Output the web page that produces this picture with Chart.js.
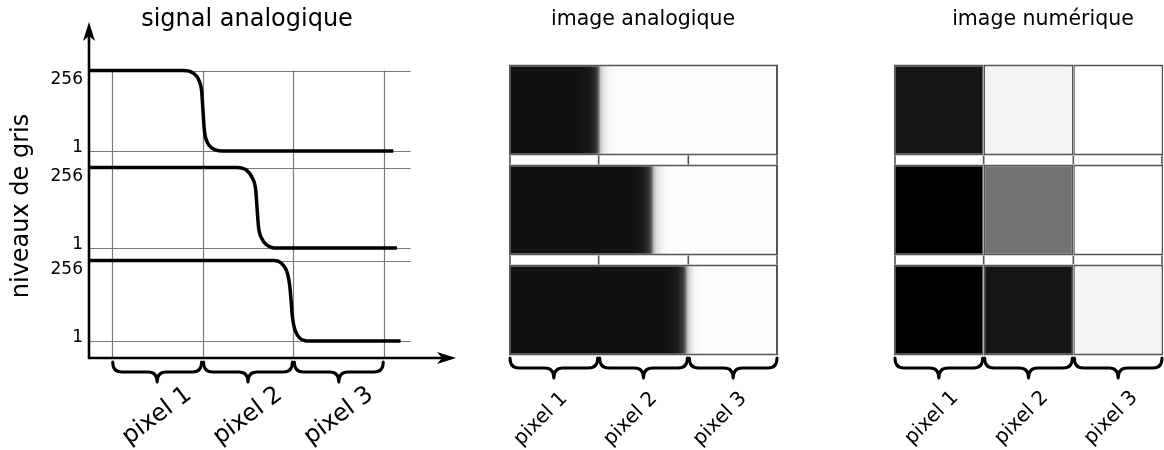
<!DOCTYPE html>
<html lang="fr">
<head>
<meta charset="utf-8">
<title>signal analogique, image analogique, image numérique</title>
<script src="https://cdn.jsdelivr.net/npm/chart.js@4.4.1/dist/chart.umd.min.js"></script>
<style>
  html, body { margin: 0; padding: 0; background: #fff; }
  #wrap { position: relative; width: 1164px; height: 450px; overflow: hidden; }
  canvas { position: absolute; top: 0; }
</style>
</head>
<body>
<div id="wrap">
  <canvas id="signalChart" width="480" height="450" style="left:0"></canvas>
  <canvas id="analogChart" width="390" height="450" style="left:480px"></canvas>
  <canvas id="digitalChart" width="294" height="450" style="left:870px"></canvas>
</div>
<script>
const FONT = '"DejaVu Sans", Verdana, sans-serif';

const pixelLabels = ['pixel 1', 'pixel 2', 'pixel 3'];
const rowNames = ['ligne 1', 'ligne 2', 'ligne 3'];
const levelTicks = [256, 1];

// signal analogique : x en largeurs de pixel, valeur en niveau de gris
const signal1X = [-0.25, 0.79, 0.90, 0.96, 0.99, 1.005, 1.02, 1.05, 1.11, 1.18, 1.27, 3.10];
const signal1Y = [256, 256, 247, 225, 190, 128, 66, 30, 9, 2, 1, 1];
const signal2X = [-0.25, 1.38, 1.49, 1.55, 1.585, 1.60, 1.615, 1.65, 1.71, 1.77, 1.82, 3.14];
const signal2Y = [256, 256, 246, 222, 185, 128, 70, 32, 10, 2, 1, 1];
const signal3X = [-0.25, 1.78, 1.88, 1.935, 1.96, 1.975, 1.99, 2.02, 2.07, 2.13, 2.18, 3.18];
const signal3Y = [256, 256, 244, 215, 175, 128, 75, 34, 10, 2, 1, 1];

// image numérique : gris de chaque pixel (0 = noir, 255 = blanc)
const digitalRow1 = [21, 244, 255];
const digitalRow2 = [0, 115, 255];
const digitalRow3 = [0, 21, 244];

const signalXs = [signal1X, signal2X, signal3X];
const signalYs = [signal1Y, signal2Y, signal3Y];
const digitalRows = [digitalRow1, digitalRow2, digitalRow3];

// layout of the three stacked signals on the left chart (px above the x axis)
const rowFloor = [207, 110, 17];
const rowHeight = 80.5;
const levelToY = (row, lvl) => rowFloor[row] + (lvl - 1) / 255 * rowHeight;

const rgb = g => `rgb(${g},${g},${g})`;
// analog level -> shade in the analog image (256 = dark, 1 = white)
const levelShade = lvl => rgb(Math.round(253 - (lvl - 1) / 255 * 236));

function line(ctx, x0, y0, x1, y1) {
    ctx.beginPath();
    ctx.moveTo(x0, y0);
    ctx.lineTo(x1, y1);
    ctx.stroke();
}

function drawBrace(ctx, x0, x1, yt, h) {
    const xm = (x0 + x1) / 2;
    const ym = yt + h * 0.5;
    const yb = yt + h;
    const r = 9;
    ctx.beginPath();
    ctx.moveTo(x0, yt);
    ctx.quadraticCurveTo(x0, ym, x0 + r, ym);
    ctx.lineTo(xm - r, ym);
    ctx.quadraticCurveTo(xm, ym, xm, yb);
    ctx.quadraticCurveTo(xm, ym, xm + r, ym);
    ctx.lineTo(x1 - r, ym);
    ctx.quadraticCurveTo(x1, ym, x1, yt);
    ctx.stroke();
}

function drawRotated(ctx, text, x, y, angle, size) {
    ctx.save();
    ctx.translate(x, y);
    ctx.rotate(angle);
    ctx.font = `${size}px ${FONT}`;
    ctx.fillStyle = '#000';
    ctx.textAlign = 'center';
    ctx.textBaseline = 'middle';
    ctx.fillText(text, 0, 0);
    ctx.restore();
}

function drawTitle(ctx, text, x, size) {
    ctx.save();
    ctx.font = `${size}px ${FONT}`;
    ctx.fillStyle = '#000';
    ctx.textAlign = 'center';
    ctx.textBaseline = 'middle';
    ctx.fillText(text, x, 20);
    ctx.restore();
}

// braces + rotated "pixel n" under the pixel columns
function drawPixelBraces(ctx, xScale, yt, labelDx, labelY, angle, size) {
    ctx.save();
    ctx.strokeStyle = '#000';
    ctx.lineWidth = 3;
    ctx.lineJoin = 'round';
    ctx.lineCap = 'round';
    pixelLabels.forEach((lab, i) => {
        const x0 = xScale.getPixelForValue(i);
        const x1 = xScale.getPixelForValue(i + 1);
        drawBrace(ctx, x0 + 1, x1 - 1, yt, 20);
        drawRotated(ctx, lab, (x0 + x1) / 2 + labelDx, labelY, angle, size);
    });
    ctx.restore();
}

// ---------- signal analogique ----------
const signalDecor = {
    id: 'signalDecor',
    beforeDatasetsDraw(chart) {
        const { ctx, scales: { x, y } } = chart;
        ctx.save();
        ctx.strokeStyle = '#7a7a7a';
        ctx.lineWidth = 1.2;
        const top = y.getPixelForValue(levelToY(0, 256));
        const bottom = y.getPixelForValue(0);
        for (let i = 0; i <= 3; i++) {
            const px = Math.round(x.getPixelForValue(i)) + 0.5;
            line(ctx, px, top, px, bottom);
        }
        rowFloor.forEach((f, r) => {
            levelTicks.forEach(lvl => {
                const py = Math.round(y.getPixelForValue(levelToY(r, lvl))) + 0.5;
                line(ctx, x.getPixelForValue(-0.25), py, x.getPixelForValue(3.29), py);
            });
        });
        ctx.restore();
    },
    afterDatasetsDraw(chart) {
        const { ctx, chartArea, scales: { x, y } } = chart;
        const ox = chartArea.left;
        const oy = chartArea.bottom;
        ctx.save();
        // axes with arrows
        ctx.strokeStyle = '#000';
        ctx.fillStyle = '#000';
        ctx.lineWidth = 2.6;
        line(ctx, ox, oy + 1, ox, chartArea.top + 10);
        line(ctx, ox - 1, oy, chartArea.right - 10, oy);
        ctx.beginPath();
        ctx.moveTo(ox, chartArea.top);
        ctx.lineTo(ox + 6, chartArea.top + 19);
        ctx.lineTo(ox, chartArea.top + 14);
        ctx.lineTo(ox - 6, chartArea.top + 19);
        ctx.closePath();
        ctx.fill();
        ctx.beginPath();
        ctx.moveTo(chartArea.right, oy);
        ctx.lineTo(chartArea.right - 19, oy - 6);
        ctx.lineTo(chartArea.right - 14, oy);
        ctx.lineTo(chartArea.right - 19, oy + 6);
        ctx.closePath();
        ctx.fill();

        // level ticks
        ctx.font = `17px ${FONT}`;
        ctx.textAlign = 'right';
        ctx.textBaseline = 'alphabetic';
        rowFloor.forEach((f, r) => {
            levelTicks.forEach(lvl => {
                const py = y.getPixelForValue(levelToY(r, lvl));
                ctx.fillText(String(lvl), ox - 6, lvl === 256 ? py + 13 : py + 0.5);
            });
        });
        ctx.restore();

        drawRotated(ctx, 'niveaux de gris', 22, 206, -Math.PI / 2, 24);
        drawTitle(ctx, 'signal analogique', 247, 24);
        drawPixelBraces(ctx, x, oy + 4, 0, 416, -37 * Math.PI / 180, 24);
    }
};

new Chart(document.getElementById('signalChart'), {
    type: 'line',
    data: {
        datasets: signalXs.map((xs, r) => ({
            label: `ligne ${r + 1}`,
            data: xs.map((v, i) => ({ x: v, y: levelToY(r, signalYs[r][i]) })),
            borderColor: '#000',
            borderWidth: 3.5,
            pointRadius: 0,
            cubicInterpolationMode: 'monotone',
            fill: false
        }))
    },
    options: {
        responsive: false,
        animation: false,
        layout: { padding: { left: 89, right: 24, top: 22, bottom: 92 } },
        plugins: { legend: { display: false }, tooltip: { enabled: false } },
        scales: {
            x: { type: 'linear', min: -0.25, max: 3.79, display: false },
            y: { type: 'linear', min: 0, max: 336, display: false }
        }
    },
    plugins: [signalDecor]
});

// ---------- shared: white strips between the image rows ----------
const stripDecor = {
    id: 'stripDecor',
    afterDatasetsDraw(chart) {
        const { ctx, scales: { x } } = chart;
        const bars = chart.getDatasetMeta(0).data;
        ctx.save();
        ctx.strokeStyle = '#555';
        ctx.lineWidth = 1.6;
        for (let i = 0; i < bars.length - 1; i++) {
            const yTop = bars[i].y + bars[i].height / 2;
            const yBot = bars[i + 1].y - bars[i + 1].height / 2;
            for (let v = 0; v <= 3; v++) {
                let px = x.getPixelForValue(v);
                if (v === 0) px += 1;
                if (v === 3) px -= 1;
                line(ctx, px, yTop, px, yBot);
            }
        }
        ctx.restore();
    }
};

// ---------- image analogique ----------
function analogGradient(context) {
    const chart = context.chart;
    const { ctx, chartArea, scales } = chart;
    if (context.type !== 'data' || !chartArea || !scales.x) return '#111';
    const xs = signalXs[context.dataIndex];
    const ys = signalYs[context.dataIndex];
    const g = ctx.createLinearGradient(scales.x.getPixelForValue(0), 0, scales.x.getPixelForValue(3), 0);
    xs.forEach((v, i) => {
        g.addColorStop(Math.min(1, Math.max(0, v / 3)), levelShade(ys[i]));
    });
    return g;
}

const analogDecor = {
    id: 'analogDecor',
    afterDraw(chart) {
        const { ctx, chartArea, scales: { x } } = chart;
        drawTitle(ctx, 'image analogique', 163, 20.5);
        drawPixelBraces(ctx, x, chartArea.bottom - 2, -13, 419, -45 * Math.PI / 180, 20);
    }
};

const analogChart = new Chart(document.getElementById('analogChart'), {
    type: 'bar',
    data: {
        labels: rowNames,
        datasets: [{
            label: 'image analogique',
            data: rowNames.map(() => [0, 3]),
            backgroundColor: analogGradient,
            borderColor: '#555',
            borderWidth: 2,
            borderSkipped: false,
            barPercentage: 0.91,
            categoryPercentage: 1
        }]
    },
    options: {
        indexAxis: 'y',
        responsive: false,
        animation: false,
        layout: { padding: { left: 29, right: 92, top: 60, bottom: 90 } },
        plugins: { legend: { display: false }, tooltip: { enabled: false } },
        scales: {
            x: { type: 'linear', min: 0, max: 3, display: false },
            y: { display: false }
        }
    },
    plugins: [stripDecor, analogDecor]
});
analogChart.update();

// ---------- image numérique ----------
const digitalDecor = {
    id: 'digitalDecor',
    afterDraw(chart) {
        const { ctx, chartArea, scales: { x } } = chart;
        drawTitle(ctx, 'image numérique', 173, 20.5);
        drawPixelBraces(ctx, x, chartArea.bottom - 2, -7, 418, -45 * Math.PI / 180, 20);
    }
};

new Chart(document.getElementById('digitalChart'), {
    type: 'bar',
    data: {
        labels: rowNames,
        datasets: pixelLabels.map((lab, c) => ({
            label: lab,
            data: rowNames.map(() => 1),
            backgroundColor: digitalRows.map(row => rgb(row[c])),
            borderColor: '#555',
            borderWidth: { left: 1.5, right: 1.5, top: 2, bottom: 2 },
            borderSkipped: false,
            barPercentage: 0.91,
            categoryPercentage: 1
        }))
    },
    options: {
        indexAxis: 'y',
        responsive: false,
        animation: false,
        layout: { padding: { left: 24, right: 1, top: 60, bottom: 90 } },
        plugins: { legend: { display: false }, tooltip: { enabled: false } },
        scales: {
            x: { type: 'linear', stacked: true, min: 0, max: 3, display: false },
            y: { stacked: true, display: false }
        }
    },
    plugins: [stripDecor, digitalDecor]
});
</script>
</body>
</html>
